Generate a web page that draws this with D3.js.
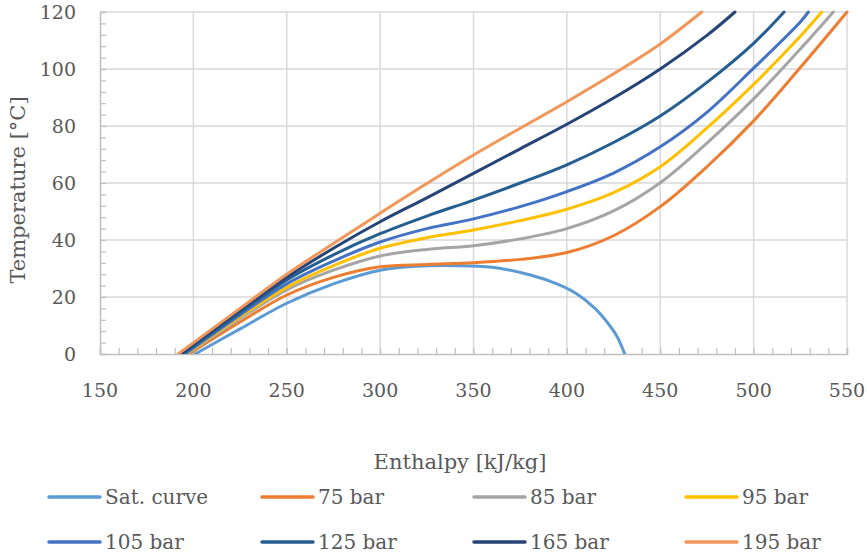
<!DOCTYPE html>
<html>
<head>
<meta charset="utf-8">
<script src="https://cdn.jsdelivr.net/npm/d3@7"></script>
<style>
  html, body { margin: 0; padding: 0; background: #fff; }
  svg { display: block; }
</style>
</head>
<body>
<svg id="chart" width="867" height="556"></svg>
<script>
// Series labels and their [enthalpy kJ/kg, temperature °C] points
const seriesNames = ["Sat. curve", "75 bar", "85 bar", "95 bar", "105 bar", "125 bar", "165 bar", "195 bar"];

const satCurve = [[200.9,0],[225,8.8],[250,17.8],[275,24.6],[300,29.4],[320,30.8],[340,31.0],[360,30.4],[380,27.8],[395,24.5],[405,21.2],[415,16.0],[422,10.8],[427,6.0],[431,0]];
const bar75  = [[197.7,0],[225,11.2],[250,20.7],[275,26.9],[300,30.6],[325,31.4],[350,32.0],[375,33.2],[400,35.6],[425,41.5],[450,51.7],[475,65.7],[500,81.8],[525,100.5],[550,120]];
const bar85  = [[196.6,0],[225,12.5],[250,22.5],[275,29.4],[300,34.4],[325,36.7],[350,38.0],[375,40.4],[400,44.0],[425,50.2],[450,60.1],[475,74.0],[500,89.5],[525,107.0],[542.7,120]];
const bar95  = [[196.0,0],[225,13.1],[250,23.4],[275,31.0],[300,37.1],[325,40.8],[350,43.5],[375,46.8],[400,50.8],[425,56.6],[450,65.7],[475,79.3],[500,94.6],[525,111.5],[536.5,120]];
const bar105 = [[195.5,0],[225,13.7],[250,24.6],[275,32.6],[300,39.3],[325,44.0],[350,47.4],[375,51.7],[400,57.0],[425,63.5],[450,72.7],[475,84.8],[500,100.3],[525,116.5],[529.3,120]];
const bar125 = [[194.4,0],[225,14.5],[250,26.0],[275,34.8],[300,42.2],[325,48.4],[350,54.0],[375,60.0],[400,66.4],[425,74.2],[450,83.5],[475,95.3],[500,109.0],[516.3,120]];
const bar165 = [[193.4,0],[225,15.3],[250,26.9],[275,37.1],[300,46.4],[325,54.8],[350,63.4],[375,72.0],[400,80.6],[425,89.8],[450,100.0],[475,111.8],[490,120]];
const bar195 = [[191.8,0],[225,16.0],[250,28.0],[275,38.8],[300,49.4],[325,59.8],[350,69.8],[375,79.2],[400,88.5],[425,98.3],[450,108.8],[472.2,120]];

const seriesData = [satCurve, bar75, bar85, bar95, bar105, bar125, bar165, bar195];
const seriesColors = ["#5B9BD5", "#ED7D31", "#A5A5A5", "#FFC000", "#4472C4", "#255E91", "#264478", "#F1975A"];

// Axis ticks
const xTicks = [150, 200, 250, 300, 350, 400, 450, 500, 550];
const yTicks = [0, 20, 40, 60, 80, 100, 120];
const xMinorTicks = d3.range(150, 551, 10);
const yMinorTicks = d3.range(0, 121, 4);

const xTitle = "Enthalpy [kJ/kg]";
const yTitle = "Temperature [°C]";

const FONT = "'DejaVu Serif', 'Liberation Serif', serif";
const TEXT_COLOR = "#595959";

const svg = d3.select("#chart");
const plot = { left: 100, right: 847, top: 12, bottom: 354 };

const x = d3.scaleLinear().domain([150, 550]).range([plot.left, plot.right]);
const y = d3.scaleLinear().domain([0, 120]).range([plot.bottom, plot.top]);

// Gridlines
const grid = svg.append("g");
grid.selectAll("line.v").data(xTicks.slice(1)).join("line")
  .attr("x1", d => x(d)).attr("x2", d => x(d))
  .attr("y1", plot.top).attr("y2", plot.bottom)
  .attr("stroke", "#d9d9d9").attr("stroke-width", 1.5);
grid.selectAll("line.h").data(yTicks.slice(1)).join("line")
  .attr("x1", plot.left).attr("x2", plot.right)
  .attr("y1", d => y(d)).attr("y2", d => y(d))
  .attr("stroke", "#d9d9d9").attr("stroke-width", 1.5);

// Minor tick marks drawn inward from both axes
const xAxis = svg.append("g").attr("transform", `translate(0,${plot.bottom})`)
  .call(d3.axisTop(x).tickValues(xMinorTicks).tickSize(6).tickFormat(""));
const yAxis = svg.append("g").attr("transform", `translate(${plot.left},0)`)
  .call(d3.axisRight(y).tickValues(yMinorTicks).tickSize(6).tickFormat(""));
[xAxis, yAxis].forEach(g => {
  g.select(".domain").attr("stroke", "#bfbfbf").attr("stroke-width", 1.5);
  g.selectAll(".tick line").attr("stroke", "#bfbfbf").attr("stroke-width", 1.2);
});

function styleText(sel, size) {
  return sel.attr("font-family", FONT).attr("font-size", size).attr("fill", TEXT_COLOR);
}

// Tick labels
styleText(svg.append("g").selectAll("text").data(xTicks).join("text")
  .attr("x", d => x(d)).attr("y", 397)
  .attr("text-anchor", "middle")
  .text(d => d), 19);
styleText(svg.append("g").selectAll("text").data(yTicks).join("text")
  .attr("x", 76).attr("y", d => y(d) + 7)
  .attr("text-anchor", "end")
  .text(d => d), 19);

// Axis titles
styleText(svg.append("text").attr("x", 460).attr("y", 469)
  .attr("text-anchor", "middle").text(xTitle), 21);
styleText(svg.append("text").attr("transform", "translate(25,190) rotate(-90)")
  .attr("text-anchor", "middle").text(yTitle), 21);

// Curves
svg.append("clipPath").attr("id", "plotClip").append("rect")
  .attr("x", plot.left).attr("y", plot.top - 2)
  .attr("width", plot.right - plot.left + 2).attr("height", plot.bottom - plot.top + 2);

const line = d3.line().x(d => x(d[0])).y(d => y(d[1])).curve(d3.curveCatmullRom.alpha(0.5));
svg.append("g").attr("clip-path", "url(#plotClip)")
  .selectAll("path").data(seriesData).join("path")
  .attr("d", line)
  .attr("fill", "none")
  .attr("stroke", (d, i) => seriesColors[i])
  .attr("stroke-width", 3)
  .attr("stroke-linejoin", "round")
  .attr("stroke-linecap", "round");

// Legend: 4 columns, 2 rows
const legendCols = [49, 262, 474, 686];
const legendRows = [497, 542];
const legend = svg.append("g").selectAll("g").data(seriesNames).join("g")
  .attr("transform", (d, i) => `translate(${legendCols[i % 4]},${legendRows[Math.floor(i / 4)]})`);
legend.append("line")
  .attr("x1", 0).attr("x2", 51).attr("y1", 0).attr("y2", 0)
  .attr("stroke", (d, i) => seriesColors[i])
  .attr("stroke-width", 3.5).attr("stroke-linecap", "round");
styleText(legend.append("text")
  .attr("x", 56).attr("y", 7)
  .text(d => d), 20);
</script>
</body>
</html>
